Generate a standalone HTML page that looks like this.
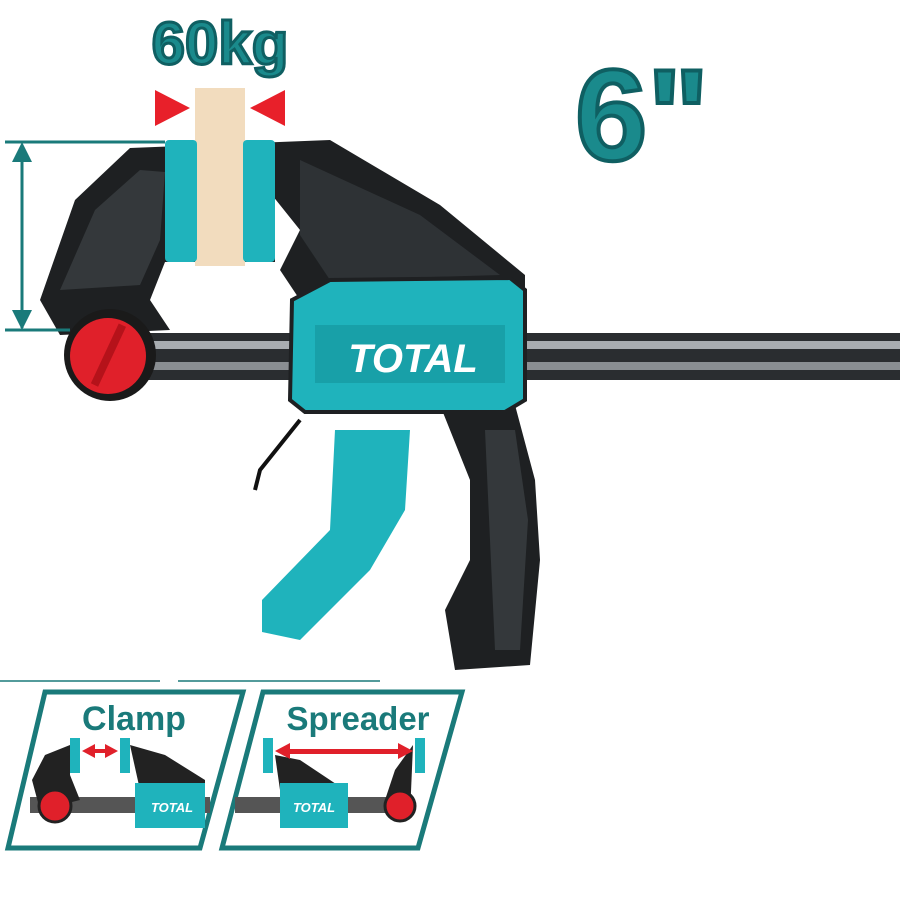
<!DOCTYPE html><html><head><style>body{margin:0;background:#fff}svg{display:block}</style></head><body>
<svg width="900" height="900" viewBox="0 0 900 900" xmlns="http://www.w3.org/2000/svg" font-family="Liberation Sans, sans-serif">
<rect width="900" height="900" fill="#fff"/>
<rect x="140" y="333" width="760" height="47" fill="#2a2d30"/>
<rect x="140" y="341" width="760" height="8" fill="#a8acb0"/>
<rect x="140" y="362" width="760" height="8" fill="#8a8e92"/>
<path d="M40 300 L75 200 L130 148 L330 140 L440 205 L525 275 L525 300 L300 300 L280 270 L300 230 L260 180 L275 160 L275 262 L165 262 L150 300 L170 330 L60 335 Z" fill="#1e2022"/>
<path d="M60 290 L95 210 L140 170 L165 172 L160 240 L140 285 Z" fill="#34383b"/>
<path d="M300 160 L420 215 L500 275 L330 280 L300 235 Z" fill="#2e3235"/>
<circle cx="110" cy="355" r="46" fill="#1a1a1a"/>
<circle cx="108" cy="356" r="38" fill="#e0202a"/>
<rect x="104" y="322" width="8" height="66" fill="#b5121a" transform="rotate(25 108 356)"/>
<rect x="195" y="88" width="50" height="178" fill="#f2dcbe"/>
<rect x="165" y="140" width="32" height="122" rx="4" fill="#1fb3bc"/>
<rect x="243" y="140" width="32" height="122" rx="4" fill="#1fb3bc"/>
<polygon points="155,90 190,108 155,126" fill="#e8202a"/>
<polygon points="285,90 250,108 285,126" fill="#e8202a"/>
<text x="220" y="64" font-size="60" font-weight="bold" text-anchor="middle" fill="#1a8a8c" stroke="#0f5f62" stroke-width="3">60kg</text>
<g stroke="#1a7a7a" stroke-width="3" fill="#1a7a7a">
<line x1="22" y1="145" x2="22" y2="328"/><line x1="5" y1="142" x2="165" y2="142"/><line x1="5" y1="330" x2="70" y2="330"/>
</g>
<polygon points="22,142 12,162 32,162" fill="#1a7a7a"/><polygon points="22,330 12,310 32,310" fill="#1a7a7a"/>
<text x="642" y="160" font-size="130" font-weight="bold" text-anchor="middle" fill="#1a8a8c" stroke="#0f5f62" stroke-width="4">6"</text>
<path d="M440 405 L515 405 L535 480 L540 560 L530 665 L455 670 L445 610 L470 560 L470 480 Z" fill="#1e2022"/>
<path d="M485 430 L515 430 L528 520 L520 650 L495 650 Z" fill="#34383b"/>
<path d="M335 430 L410 430 L405 510 L370 570 L300 640 L262 632 L262 600 L330 530 Z" fill="#1fb3bc"/>
<path d="M300 420 L260 470 L255 490" stroke="#111" stroke-width="4" fill="none"/>
<path d="M292 300 L330 280 L510 278 L525 290 L525 400 L505 412 L305 412 L290 400 Z" fill="#1fb3bc" stroke="#1e2022" stroke-width="4"/>
<rect x="315" y="325" width="190" height="58" fill="#18a0a8"/>
<text x="413" y="372" font-size="40" font-weight="bold" font-style="italic" text-anchor="middle" fill="#fff">TOTAL</text>
<g fill="#fff" stroke="#1a7a7a" stroke-width="5">
<polygon points="45,692 243,692 200,848 8,848"/>
<polygon points="263,692 462,692 418,848 222,848"/>
</g>
<line x1="0" y1="681" x2="160" y2="681" stroke="#1a7a7a" stroke-width="1.5"/>
<line x1="178" y1="681" x2="380" y2="681" stroke="#1a7a7a" stroke-width="1.5"/>
<text x="134" y="730" font-size="34" font-weight="bold" text-anchor="middle" fill="#1a7a7a">Clamp</text>
<text x="358" y="730" font-size="33" font-weight="bold" text-anchor="middle" fill="#1a7a7a">Spreader</text>
<rect x="30" y="797" width="180" height="16" fill="#555"/>
<path d="M32 780 L45 755 L70 745 L70 775 L80 800 L40 810 Z" fill="#222"/>
<circle cx="55" cy="806" r="16" fill="#e0202a" stroke="#222" stroke-width="3"/>
<rect x="70" y="738" width="10" height="35" fill="#1fb3bc"/>
<rect x="120" y="738" width="10" height="35" fill="#1fb3bc"/>
<path d="M130 745 L165 755 L205 780 L205 790 L140 790 Z" fill="#222"/>
<rect x="135" y="783" width="70" height="45" fill="#1fb3bc"/>
<text x="172" y="812" font-size="13" font-weight="bold" font-style="italic" text-anchor="middle" fill="#fff">TOTAL</text>
<polygon points="82,751 95,744 95,758" fill="#e0202a"/><polygon points="118,751 105,744 105,758" fill="#e0202a"/><rect x="93" y="749" width="14" height="4" fill="#e0202a"/>
<rect x="235" y="797" width="170" height="16" fill="#555"/>
<rect x="263" y="738" width="10" height="35" fill="#1fb3bc"/>
<rect x="415" y="738" width="10" height="35" fill="#1fb3bc"/>
<path d="M275 755 L300 760 L345 790 L280 790 Z" fill="#222"/>
<rect x="280" y="783" width="68" height="45" fill="#1fb3bc"/>
<text x="314" y="812" font-size="13" font-weight="bold" font-style="italic" text-anchor="middle" fill="#fff">TOTAL</text>
<path d="M413 745 L395 770 L385 800 L410 815 Z" fill="#222"/>
<circle cx="400" cy="806" r="15" fill="#e0202a" stroke="#222" stroke-width="3"/>
<rect x="285" y="749" width="122" height="5" fill="#e0202a"/>
<polygon points="275,751 290,743 290,759" fill="#e0202a"/><polygon points="413,751 398,743 398,759" fill="#e0202a"/>
</svg>
</body></html>
